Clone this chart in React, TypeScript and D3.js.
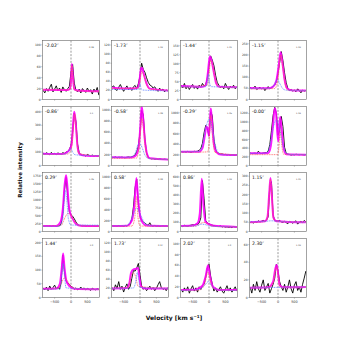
import React from 'react';
import * as d3 from 'd3';

const VELOCITY = [-850, -800, -750, -700, -650, -600, -550, -500, -450, -400, -350, -300, -250, -200, -150, -100, -50, 0, 50, 100, 150, 200, 250, 300, 350, 400, 450, 500, 550, 600, 650, 700, 750, 800, 850];

const OFFSETS = ['-2.02″', '-1.73″', '-1.44″', '-1.15″', '-0.86″', '-0.58″', '-0.29″', '-0.00″', '0.29″', '0.58″', '0.86″', '1.15″', '1.44″', '1.73″', '2.02″', '2.30″'];
const FIT_NOTES = ['0.98', '1.02', '1.01', '1.03', '1.1', '1.08', '1.05', '1.04', '1.06', '0.99', '1.02', '1.01', '1.0', '0.97', '1.0', '1.03'];
const Y_MAX = [108, 130, 165, 265, 440, 1070, 1120, 1360, 1850, 1080, 650, 320, 215, 130, 110, 67];
const Y_STEP = [20, 20, 25, 50, 100, 200, 200, 200, 250, 200, 100, 50, 50, 20, 20, 20];
const X_TICKS = [-500, 0, 500];
const X_TICK_LABELS = ['−500', '0', '500'];

// observed spectra (black), one value per VELOCITY channel
const OBS_0 = [17, 12, 20, 15, 22, 28, 14, 19, 25, 16, 21, 13, 23, 18, 15, 20, 24, 50, 64, 30, 17, 14, 19, 12, 20, 16, 13, 21, 15, 18, 10, 19, 14, 22, 8];
const OBS_1 = [28, 30, 22, 20, 27, 33, 25, 18, 24, 30, 22, 26, 20, 28, 31, 24, 35, 52, 80, 66, 60, 48, 38, 32, 30, 25, 28, 22, 18, 25, 20, 23, 17, 21, 19];
const OBS_2 = [40, 33, 45, 30, 38, 28, 36, 42, 31, 37, 29, 40, 34, 45, 38, 42, 60, 95, 122, 110, 95, 68, 48, 40, 33, 38, 30, 45, 35, 28, 37, 32, 40, 30, 36];
const OBS_3 = [55, 48, 52, 60, 45, 50, 55, 47, 53, 40, 50, 58, 48, 52, 60, 65, 80, 120, 165, 215, 175, 120, 75, 50, 40, 45, 38, 42, 35, 48, 40, 30, 42, 38, 40];
const OBS_4 = [92, 85, 95, 88, 80, 98, 86, 90, 82, 94, 88, 84, 96, 90, 100, 105, 120, 150, 250, 390, 330, 160, 95, 80, 75, 78, 70, 82, 76, 72, 78, 68, 74, 70, 72];
const OBS_5 = [150, 145, 155, 140, 150, 148, 152, 145, 140, 150, 155, 148, 160, 170, 190, 250, 350, 600, 1000, 920, 480, 230, 150, 130, 120, 125, 115, 118, 110, 120, 112, 108, 115, 110, 105];
const OBS_6 = [265, 258, 262, 255, 268, 260, 250, 262, 270, 265, 272, 290, 320, 420, 620, 760, 700, 560, 1020, 950, 500, 300, 240, 230, 215, 220, 205, 210, 200, 208, 198, 205, 200, 195, 202];
const OBS_7 = [290, 275, 280, 285, 270, 330, 282, 276, 288, 295, 300, 330, 480, 800, 1150, 1340, 1200, 700, 800, 1130, 900, 420, 280, 260, 255, 240, 250, 245, 260, 252, 248, 255, 250, 245, 250];
const OBS_8 = [170, 165, 175, 168, 172, 160, 178, 170, 165, 175, 180, 260, 560, 1300, 1700, 1100, 620, 520, 480, 400, 300, 220, 190, 185, 175, 180, 170, 178, 172, 168, 175, 170, 165, 172, 168];
const OBS_9 = [105, 98, 102, 95, 108, 100, 104, 96, 110, 102, 120, 150, 220, 450, 800, 960, 500, 280, 200, 180, 150, 130, 110, 160, 105, 100, 110, 98, 102, 95, 100, 104, 98, 100, 96];
const OBS_10 = [62, 55, 68, 60, 58, 66, 70, 75, 72, 80, 78, 95, 150, 560, 360, 120, 95, 85, 75, 70, 65, 60, 58, 55, 62, 50, 56, 48, 52, 45, 50, 42, 55, 48, 50];
const OBS_11 = [48, 52, 45, 55, 50, 58, 52, 56, 60, 55, 62, 80, 250, 270, 90, 60, 58, 55, 60, 52, 50, 55, 48, 42, 55, 50, 45, 52, 58, 40, 50, 55, 48, 60, 52];
const OBS_12 = [35, 28, 38, 25, 42, 30, 36, 45, 32, 38, 30, 55, 155, 95, 60, 52, 48, 40, 38, 30, 35, 28, 32, 38, 30, 35, 28, 33, 30, 26, 34, 30, 28, 32, 30];
const OBS_13 = [22, 15, 28, 20, 35, 18, 25, 12, 22, 30, 18, 24, 42, 60, 58, 65, 75, 50, 25, 18, 22, 15, 20, 25, 18, 22, 15, 20, 28, 35, 22, 18, 20, 15, 22];
const OBS_14 = [15, 10, 18, 12, 20, 8, 16, 22, 12, 18, 10, 20, 15, 22, 25, 38, 55, 62, 40, 25, 12, 18, 10, 15, 20, 12, 8, 15, 22, 12, 18, 10, 15, 20, 12];
const OBS_15 = [12, 5, 15, 8, 18, 10, 6, 14, 20, 8, 12, 16, 5, 10, 15, 22, 38, 30, 18, 12, 8, 15, 6, 12, 20, 10, 5, 14, 18, 8, 12, 6, 15, 22, 30];
const OBS = [OBS_0, OBS_1, OBS_2, OBS_3, OBS_4, OBS_5, OBS_6, OBS_7, OBS_8, OBS_9, OBS_10, OBS_11, OBS_12, OBS_13, OBS_14, OBS_15];

// fitted total profile (magenta), read as [velocity, intensity] points
const TOTAL = [
  [[-850, 18], [-100, 17.5], [-30, 20], [0, 35], [25, 65], [60, 40], [100, 19], [200, 16.5], [850, 15]],
  [[-850, 26], [-200, 24], [-60, 27], [-10, 45], [30, 68], [60, 70], [120, 55], [200, 35], [300, 24], [850, 20]],
  [[-850, 38], [-200, 36], [-100, 40], [-40, 70], [0, 105], [30, 120], [80, 108], [150, 75], [220, 45], [300, 36], [850, 34]],
  [[-850, 52], [-300, 50], [-150, 58], [-50, 85], [20, 150], [80, 212], [130, 170], [200, 90], [280, 50], [400, 42], [850, 40]],
  [[-850, 88], [-300, 85], [-150, 95], [-50, 115], [20, 160], [70, 330], [100, 400], [140, 330], [200, 140], [260, 85], [400, 75], [850, 70]],
  [[-850, 150], [-300, 145], [-150, 170], [-50, 300], [10, 700], [50, 1070], [90, 900], [150, 450], [220, 200], [300, 130], [850, 110]],
  [[-850, 260], [-300, 262], [-200, 330], [-120, 600], [-80, 740], [-40, 700], [0, 560], [30, 850], [55, 1080], [90, 850], [150, 400], [220, 260], [350, 210], [850, 200]],
  [[-850, 280], [-300, 290], [-220, 450], [-150, 950], [-100, 1320], [-60, 1200], [-20, 750], [10, 560], [40, 950], [70, 1120], [110, 850], [170, 400], [250, 260], [850, 250]],
  [[-850, 170], [-450, 175], [-320, 300], [-250, 700], [-190, 1500], [-150, 1760], [-110, 1400], [-60, 750], [0, 500], [60, 380], [150, 240], [300, 180], [850, 170]],
  [[-850, 100], [-400, 105], [-250, 200], [-170, 500], [-110, 980], [-60, 600], [0, 300], [80, 160], [200, 110], [850, 100]],
  [[-850, 60], [-500, 65], [-350, 90], [-280, 200], [-220, 580], [-170, 300], [-110, 110], [0, 80], [100, 65], [850, 50]],
  [[-850, 50], [-400, 55], [-320, 80], [-270, 200], [-230, 290], [-190, 200], [-140, 75], [-50, 56], [850, 50]],
  [[-850, 32], [-450, 33], [-340, 50], [-280, 110], [-240, 160], [-200, 110], [-140, 60], [-50, 42], [100, 32], [850, 30]],
  [[-850, 20], [-400, 21], [-330, 30], [-270, 55], [-200, 62], [-130, 63], [-60, 65], [-20, 45], [30, 25], [150, 20], [850, 20]],
  [[-850, 14], [-400, 15], [-200, 22], [-100, 40], [-30, 60], [30, 40], [120, 20], [300, 14], [850, 14]],
  [[-850, 11], [-300, 11.5], [-150, 18], [-80, 33], [-40, 37], [0, 28], [50, 14], [150, 11.5], [850, 12]],
];

// red fitted component
const RED = [
  [[-850, 18], [-100, 17.5], [-30, 19], [0, 33], [25, 62], [60, 38], [100, 18], [200, 16], [850, 15]],
  [[-850, 24], [-50, 25], [0, 40], [50, 62], [120, 52], [200, 33], [300, 23], [850, 20]],
  [[-850, 34], [-50, 40], [0, 70], [50, 110], [100, 100], [170, 65], [250, 40], [350, 34], [850, 34]],
  [[-850, 48], [-100, 49], [0, 90], [80, 200], [150, 140], [220, 70], [300, 42], [850, 40]],
  [[-850, 82], [-100, 86], [0, 112], [80, 300], [110, 385], [160, 250], [230, 90], [850, 70]],
  [[-850, 130], [-100, 135], [0, 500], [50, 850], [100, 700], [170, 300], [250, 130], [850, 110]],
  [[-850, 255], [-200, 255], [-40, 260], [0, 400], [50, 950], [100, 600], [180, 250], [850, 200]],
  [[-850, 250], [-50, 250], [0, 260], [30, 450], [70, 800], [110, 500], [170, 260], [850, 250]],
  [[-850, 165], [-300, 190], [-200, 400], [-100, 560], [-40, 560], [50, 420], [150, 250], [300, 180], [850, 170]],
  [[-850, 98], [-250, 100], [-160, 250], [-110, 640], [-60, 250], [0, 100], [850, 98]],
  [[-850, 55], [-400, 60], [-250, 90], [-150, 100], [-50, 85], [50, 65], [200, 55], [850, 50]],
  [[-850, 49], [-400, 54], [-320, 78], [-270, 195], [-230, 285], [-190, 195], [-140, 72], [-50, 55], [850, 50]],
  [[-850, 30], [-400, 33], [-300, 50], [-200, 72], [-80, 55], [0, 40], [150, 32], [850, 30]],
  [[-850, 20], [-350, 22], [-280, 45], [-200, 55], [-130, 45], [-60, 25], [850, 20]],
  [[-850, 13], [-300, 14], [-150, 22], [-30, 47], [80, 22], [250, 14], [850, 13]],
  [[-850, 11], [-300, 11.5], [-150, 17], [-80, 31], [-40, 35], [0, 26], [50, 13], [150, 11.5], [850, 12]],
];

// blue fitted component
const BLUE = [
  [],
  [[-850, 22], [-60, 22], [-20, 28], [0, 36], [20, 28], [60, 21], [850, 19]],
  [[-850, 35], [-100, 36], [-50, 50], [-20, 70], [10, 50], [60, 36], [850, 34]],
  [[-850, 50], [-250, 50], [-120, 65], [-20, 90], [60, 70], [150, 48], [250, 42], [850, 40]],
  [[-850, 85], [-200, 85], [-80, 100], [-10, 130], [50, 100], [120, 80], [850, 72]],
  [[-850, 148], [-300, 150], [-150, 220], [-50, 390], [0, 400], [60, 330], [150, 190], [250, 130], [850, 110]],
  [[-850, 260], [-300, 265], [-200, 380], [-100, 700], [0, 880], [80, 760], [180, 420], [280, 250], [400, 205], [850, 200]],
  [[-850, 280], [-350, 285], [-250, 450], [-150, 850], [-60, 1050], [30, 900], [130, 550], [230, 300], [350, 255], [850, 250]],
  [[-850, 165], [-350, 170], [-250, 400], [-200, 1000], [-170, 1300], [-130, 1000], [-80, 400], [0, 200], [850, 200]],
  [[-850, 100], [-400, 110], [-250, 250], [-100, 430], [20, 300], [150, 150], [300, 105], [850, 100]],
  [[-850, 58], [-400, 62], [-220, 80], [-100, 75], [0, 60], [850, 50]],
  [[-850, 52], [-400, 55], [-200, 58], [0, 55], [850, 50]],
  [[-850, 30], [-330, 32], [-280, 80], [-240, 125], [-200, 80], [-150, 35], [850, 30]],
  [[-850, 20], [-200, 21], [-130, 35], [-80, 55], [-40, 40], [0, 22], [850, 20]],
  [[-850, 13], [-300, 15], [-100, 25], [-20, 30], [80, 22], [250, 14], [850, 13]],
  [[-850, 11], [850, 12]],
];

const FONT = 'DejaVu Sans, sans-serif';
const PANEL_W = 57;
const PANEL_H = 59;
const LEFT = 42.5;
const TOP = 40.5;
const COL_STEP = 69;
const ROW_STEP = 66;

function Panel({ i }: { i: number }) {
  const col = i % 4;
  const row = Math.floor(i / 4);
  const x0 = LEFT + COL_STEP * col;
  const y0 = TOP + ROW_STEP * row;
  const x = d3.scaleLinear().domain([-870, 870]).range([x0, x0 + PANEL_W]);
  const y = d3.scaleLinear().domain([0, Y_MAX[i]]).range([y0 + PANEL_H, y0]);
  const yTicks = d3.range(0, Y_MAX[i] + 1e-9, Y_STEP[i]);
  const obsLine = d3.line<number>().x((_, k) => x(VELOCITY[k])).y((d) => y(d));
  const fitLine = d3.line<number[]>().x((d) => x(d[0])).y((d) => y(d[1])).curve(d3.curveMonotoneX);
  const clipId = `clip${i}`;
  return (
    <g>
      <defs>
        <clipPath id={clipId}>
          <rect x={x0} y={y0} width={PANEL_W} height={PANEL_H} />
        </clipPath>
      </defs>
      <g clipPath={`url(#${clipId})`}>
        <line x1={x(0)} x2={x(0)} y1={y0} y2={y0 + PANEL_H} stroke="#555" strokeWidth={0.6} strokeDasharray="2,1.4" />
        <path d={obsLine(OBS[i]) || ''} fill="none" stroke="#000" strokeWidth={0.9} />
        <path d={fitLine(TOTAL[i]) || ''} fill="none" stroke="#ff00ff" strokeWidth={2} opacity={0.9} />
        <path d={fitLine(RED[i]) || ''} fill="none" stroke="#ff5a5a" strokeWidth={0.8} strokeDasharray="1,0.7" />
        {BLUE[i].length > 0 && (
          <path d={fitLine(BLUE[i]) || ''} fill="none" stroke="#5a7dff" strokeWidth={0.8} strokeDasharray="1,0.7" />
        )}
      </g>
      <rect x={x0} y={y0} width={PANEL_W} height={PANEL_H} fill="none" stroke="#666" strokeWidth={0.6} />
      {yTicks.map((t) => (
        <g key={t}>
          <line x1={x0 - 1.2} x2={x0} y1={y(t)} y2={y(t)} stroke="#666" strokeWidth={0.4} />
          <text x={x0 - 1.8} y={y(t)} dy="0.35em" textAnchor="end" fontSize={3} fill="#333" fontFamily={FONT}>
            {t}
          </text>
        </g>
      ))}
      {X_TICKS.map((t, k) => (
        <g key={t}>
          <line x1={x(t)} x2={x(t)} y1={y0 + PANEL_H} y2={y0 + PANEL_H + 1.2} stroke="#666" strokeWidth={0.4} />
          {row === 3 && (
            <text x={x(t)} y={y0 + PANEL_H + 5} textAnchor="middle" fontSize={3.4} fill="#333" fontFamily={FONT}>
              {X_TICK_LABELS[k]}
            </text>
          )}
        </g>
      ))}
      <text x={x0 + 2.5} y={y0 + 6} fontSize={4.6} fill="#111" fontFamily={FONT}>
        {OFFSETS[i]}
      </text>
      <text x={x0 + PANEL_W - 8} y={y0 + 7} fontSize={2.2} fill="#444" fontFamily={FONT} textAnchor="middle">
        {FIT_NOTES[i]}
      </text>
    </g>
  );
}

export default function App() {
  const panels = d3.range(16);
  return (
    <svg width={340} height={340} style={{ position: 'absolute', left: 0, top: 0, background: '#fff' }}>
      <rect x={0} y={0} width={340} height={340} fill="#fff" />
      {panels.map((i) => (
        <Panel key={i} i={i} />
      ))}
      <text x={174} y={320} textAnchor="middle" fontSize={6} fontWeight="bold" fill="#111" fontFamily={FONT}>
        Velocity [km s
        <tspan dy={-2} fontSize={4}>−1</tspan>
        <tspan dy={2}>]</tspan>
      </text>
      <text
        transform="translate(22,170) rotate(-90)"
        textAnchor="middle"
        fontSize={5.6}
        fontWeight="bold"
        fill="#111"
        fontFamily={FONT}
      >
        Relative intensity
      </text>
    </svg>
  );
}
